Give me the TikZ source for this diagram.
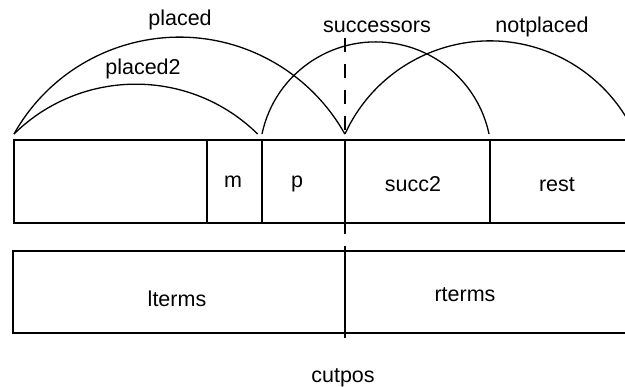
\documentclass[tikz,border=0pt]{standalone}
\usepackage{fontspec}
\setmainfont{Liberation Sans}
\begin{document}
\begin{tikzpicture}[x=1pt,y=1pt,
  cell/.style={draw, line width=1.5pt, rectangle, inner sep=0pt, outer sep=0pt, anchor=south west},
  lbl/.style={anchor=base, inner sep=0pt, font=\fontsize{21.5}{25}\selectfont},
  bow/.style={line width=1.3pt},
  cutline/.style={line width=2.8pt, dash pattern=on 14pt off 12pt}
]
\useasboundingbox (0,0) rectangle (625,387);
% top row cells
\node[cell, minimum width=193pt, minimum height=83pt] (c0) at (14,164) {};
\node[cell, minimum width=55pt, minimum height=83pt] (cm) at (207,164) {};
\node[cell, minimum width=83pt, minimum height=83pt] (cp) at (262,164) {};
\node[cell, minimum width=145pt, minimum height=83pt] (cs) at (345,164) {};
\node[cell, minimum width=160pt, minimum height=83pt] (cr) at (490,164) {};
% bottom row cells
\node[cell, minimum width=332pt, minimum height=82pt] (cl) at (13,54) {};
\node[cell, minimum width=305pt, minimum height=82pt] (crt) at (345,54) {};
% cell labels
\node[lbl] (tm) at (233,199) {m};
\node[lbl] (tp) at (297,199) {p};
\node[lbl] (ts) at (413,195) {succ2};
\node[lbl] (tr) at (557,195) {rest};
\node[lbl] (tl) at (177,80) {lterms};
\node[lbl] (trt) at (465,85) {rterms};
% arc end points
\coordinate (L) at (14,253);
\coordinate (M) at (262,253);
\coordinate (C) at (345,253);
\coordinate (S) at (489,253);
\coordinate (R) at (635,253);
\draw[bow] (L) arc[start angle=150.7, end angle=29.3, radius=189.7];
\draw[bow] (L) arc[start angle=134.5, end angle=45.5, radius=173.8];
\draw[bow] (M) arc[start angle=168.1, end angle=11.9, radius=116.0];
\draw[bow] (C) arc[start angle=155.4, end angle=24.6, radius=159.5];
% arc labels
\node[lbl] (lplaced) at (180,361) {placed};
\node[lbl] (lplaced2) at (143,312) {placed2};
\node[lbl] (lsucc) at (377,354) {successors};
\node[lbl] (lnot) at (542,354) {notplaced};
% cut line
\coordinate (cuttop) at (345,349);
\coordinate (cutbot) at (345,42);
\draw[cutline] (cuttop) -- (cutbot);
\node[lbl] (lcut) at (343,4) {cutpos};
\end{tikzpicture}
\end{document}
